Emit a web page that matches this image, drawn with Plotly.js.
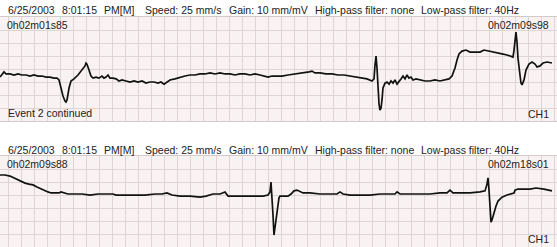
<!DOCTYPE html>
<html>
<head>
<meta charset="utf-8">
<script src="https://cdn.plot.ly/plotly-3.0.1.min.js"></script>
<style>html,body{margin:0;padding:0;background:#fff;}#chart{width:557px;height:247px;}</style>
</head>
<body>
<div id="chart"></div>
<script>
// Strip 1 (0h02m01s85 - 0h02m09s98): time in s from strip start, amplitude in mV
var t1 = [0,0.031,0.062,0.092,0.154,0.215,0.277,0.338,0.4,0.462,0.523,0.585,0.646,0.708,0.769,0.831,0.877,0.908,0.938,0.969,1.0,1.015,1.031,1.062,1.092,1.138,1.2,1.262,1.308,1.323,1.338,1.369,1.4,1.431,1.477,1.523,1.569,1.6,1.631,1.662,1.692,1.738,1.785,1.831,1.877,1.938,2.0,2.062,2.123,2.185,2.246,2.308,2.369,2.431,2.477,2.523,2.569,2.615,2.692,2.769,2.846,2.923,3.0,3.077,3.154,3.231,3.308,3.385,3.462,3.538,3.615,3.692,3.769,3.846,3.923,4.0,4.062,4.123,4.185,4.262,4.338,4.431,4.538,4.615,4.692,4.754,4.8,4.846,4.923,5.015,5.108,5.2,5.292,5.385,5.477,5.569,5.646,5.723,5.754,5.769,5.785,5.8,5.815,5.831,5.846,5.862,5.877,5.892,5.923,5.954,5.985,6.015,6.046,6.077,6.108,6.138,6.169,6.2,6.231,6.262,6.292,6.323,6.354,6.4,6.462,6.538,6.615,6.692,6.769,6.846,6.908,6.954,7.0,7.031,7.062,7.108,7.169,7.231,7.308,7.385,7.446,7.508,7.569,7.646,7.723,7.8,7.862,7.892,7.908,7.923,7.938,7.954,7.969,8.0,8.015,8.031,8.062,8.092,8.138,8.185,8.231,8.262,8.308,8.354,8.415,8.492];
var v1 = [-0.08,0,0.12,0.04,0.04,0,0.04,0,0,-0.04,0,-0.04,-0.04,-0.08,-0.08,-0.12,-0.12,-0.19,-0.5,-0.81,-1.0,-1.04,-0.96,-0.5,-0.23,-0.15,0,0.19,0.35,0.46,0.42,0.19,-0.04,-0.12,-0.08,-0.12,-0.04,-0.12,-0.08,0,-0.12,-0.12,-0.15,-0.23,-0.19,-0.23,-0.27,-0.23,-0.27,-0.23,-0.31,-0.27,-0.27,-0.31,-0.27,-0.35,-0.27,-0.19,-0.15,-0.08,-0.04,0,0,0.04,0.04,0.08,0.04,0.08,0.04,0.04,0,0.04,0.04,0,0.04,0,-0.04,-0.08,-0.04,-0.04,-0.04,0,0.04,0.04,0.08,0.12,0.15,0.08,0.08,0.04,0.04,0,0,-0.04,-0.08,-0.12,-0.15,-0.23,-0.15,0.38,0.73,0.27,-0.58,-1.12,-1.35,-1.27,-0.96,-0.5,-0.31,-0.27,-0.35,-0.23,-0.31,-0.19,-0.35,-0.27,-0.15,-0.04,-0.15,0,-0.12,-0.08,-0.19,-0.15,-0.19,-0.23,-0.23,-0.19,-0.23,-0.19,-0.15,-0.04,0.27,0.58,0.81,0.92,0.96,0.88,0.88,0.88,0.96,0.92,0.88,0.85,0.81,0.77,0.73,0.69,0.96,1.35,1.65,1.27,0.65,0,-0.31,-0.38,-0.19,0.19,0.42,0.5,0.42,0.31,0.35,0.46,0.5,0.46];

// Strip 2 (0h02m09s88 - 0h02m18s01)
var t2 = [0,0.077,0.154,0.215,0.262,0.323,0.385,0.446,0.508,0.569,0.631,0.692,0.738,0.785,0.846,0.908,0.938,0.985,1.046,1.154,1.262,1.385,1.508,1.631,1.738,1.785,1.923,2.077,2.231,2.385,2.492,2.569,2.646,2.769,2.923,3.077,3.169,3.277,3.385,3.462,3.508,3.615,3.769,3.923,4.046,4.123,4.154,4.169,4.185,4.2,4.215,4.231,4.246,4.262,4.277,4.292,4.308,4.369,4.431,4.477,4.523,4.569,4.615,4.662,4.769,4.923,5.077,5.185,5.231,5.277,5.385,5.538,5.692,5.846,6.0,6.077,6.108,6.154,6.308,6.462,6.615,6.769,6.877,6.923,6.969,7.077,7.231,7.385,7.462,7.492,7.508,7.523,7.538,7.554,7.569,7.6,7.631,7.662,7.723,7.8,7.877,7.908,7.923,7.969,8.062,8.154,8.246,8.369,8.492];
var v2 = [0.73,0.73,0.69,0.62,0.54,0.5,0.42,0.38,0.35,0.27,0.19,0.12,0.08,0.04,0.04,0.04,0.08,0.04,0,0,0,-0.04,0,0,0,-0.04,-0.04,-0.04,-0.04,0,0,0.04,-0.04,-0.08,-0.08,-0.12,-0.08,0,0,0.08,-0.08,-0.08,-0.08,-0.08,-0.08,-0.04,0.08,0.46,-0.04,-0.81,-1.58,-1.31,-1.0,-0.73,-0.38,-0.15,-0.08,-0.08,-0.08,0,0.12,0.15,0.08,0.04,0.04,0,0,0,0.08,0,-0.04,-0.04,-0.04,0,0,0,0.08,0,0,0,0,0.04,0.04,0.15,0.04,0.04,0.04,0.08,0.12,0.38,0.62,0.15,-0.62,-1.08,-1.0,-0.69,-0.46,-0.27,-0.12,-0.04,0,0.04,0.15,0.19,0.19,0.19,0.23,0.19,0.12];

var headerParts = ["6/25/2003", "8:01:15", "PM[M]", "Speed: 25 mm/s", "Gain: 10 mm/mV", "High-pass filter: none", "Low-pass filter: 40Hz"];
var headerX = [6, 60, 102, 143, 227, 313, 419];
var strip1Start = "0h02m01s85", strip1End = "0h02m09s98";
var strip2Start = "0h02m09s88", strip2End = "0h02m18s01";
var eventLabel = "Event 2 continued";
var channel = "CH1";

var W = 557, H = 247;
function px(x){ return x / W; }
function py(y){ return 1 - y / H; }

var font = {family: "Liberation Sans, Arial, sans-serif", size: 10.5, color: "#222"};
var annotations = [];
function ann(text, x, y, anchor){
  annotations.push({text: text, x: px(x), y: py(y), xref: "paper", yref: "paper",
    xanchor: anchor || "left", yanchor: "middle", showarrow: false, font: font});
}
[10, 150].forEach(function(hy){
  headerParts.forEach(function(p, i){ ann(p, headerX[i], hy); });
});
ann(strip1Start, 5, 25); ann(strip1End, 551, 25, "right");
ann(eventLabel, 6, 113); ann(channel, 551, 114, "right");
ann(strip2Start, 5, 164); ann(strip2End, 551, 164, "right");
ann(channel, 551, 239, "right");

var lineStyle = {color: "#111", width: 1.7};
var traces = [
  {x: t1, y: v1, type: "scatter", mode: "lines", line: lineStyle, xaxis: "x", yaxis: "y", hoverinfo: "skip"},
  {x: t2, y: v2, type: "scatter", mode: "lines", line: lineStyle, xaxis: "x2", yaxis: "y2", hoverinfo: "skip"}
];

var gridColor = "#e0d5d5";
function xax(anchor){
  return {anchor: anchor, domain: [0, 1], range: [0, W / 65], tick0: 0.13, dtick: 0.2,
    showgrid: true, gridcolor: gridColor, gridwidth: 1, zeroline: false, showticklabels: false,
    ticks: "", showline: true, linecolor: "#d4caca", linewidth: 1, mirror: true, fixedrange: true};
}
function yax(anchor, dom, r){
  return {anchor: anchor, domain: dom, range: r, tick0: r[0], dtick: 0.5,
    showgrid: true, gridcolor: gridColor, gridwidth: 1, zeroline: false, showticklabels: false,
    ticks: "", showline: false, fixedrange: true};
}

var layout = {
  width: W, height: H, margin: {l: 0, r: 0, t: 0, b: 0, pad: 0},
  paper_bgcolor: "#ffffff", plot_bgcolor: "#f8f3f2", showlegend: false,
  xaxis: xax("y"), yaxis: yax("x", [(H - 121) / H, (H - 17) / H], [-46 / 26, 58 / 26]),
  xaxis2: xax("y2"), yaxis2: yax("x2", [0, (H - 156) / H], [-53 / 26, 38 / 26]),
  annotations: annotations
};

Plotly.newPlot("chart", traces, layout, {staticPlot: true, displayModeBar: false});
</script>
</body>
</html>
